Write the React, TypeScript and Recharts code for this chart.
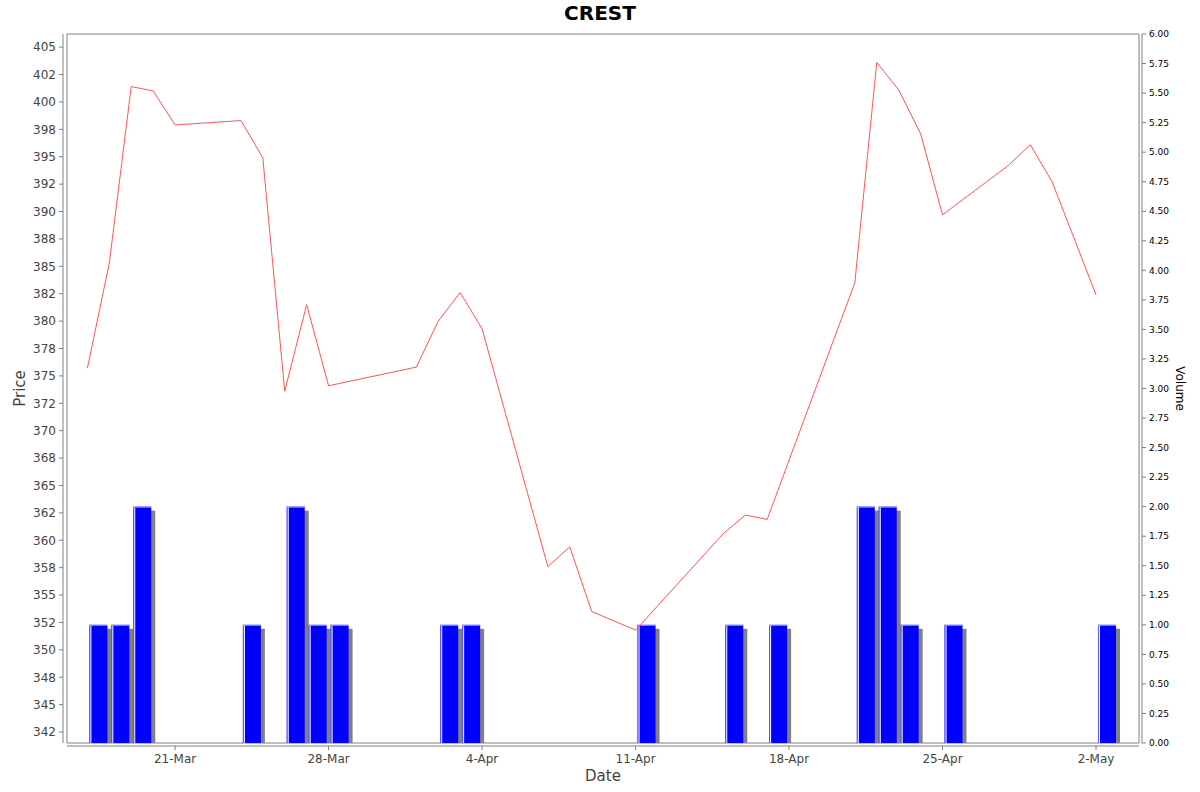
import React from 'react'
import { ComposedChart, Line, Bar, XAxis, YAxis, ReferenceArea } from 'recharts'

const FONT = '"DejaVu Sans", sans-serif'

// trading days shown on the chart
const DATES = [
  '2025-03-17', '2025-03-18', '2025-03-19', '2025-03-20', '2025-03-21',
  '2025-03-24', '2025-03-25', '2025-03-26', '2025-03-27', '2025-03-28',
  '2025-04-01', '2025-04-02', '2025-04-03', '2025-04-04',
  '2025-04-07', '2025-04-08', '2025-04-09', '2025-04-11',
  '2025-04-15', '2025-04-16', '2025-04-17',
  '2025-04-21', '2025-04-22', '2025-04-23', '2025-04-24', '2025-04-25',
  '2025-04-28', '2025-04-29', '2025-04-30', '2025-05-02',
]

const PRICES = [
  375.7, 385.3, 401.4, 401.0, 397.9,
  398.3, 394.9, 373.6, 381.5, 374.1,
  375.8, 380.0, 382.6, 379.3,
  357.6, 359.4, 353.5, 351.8,
  360.6, 362.3, 361.9,
  383.5, 403.6, 401.1, 397.1, 389.7,
  394.2, 396.1, 392.7, 382.4,
]

const VOLUMES = [
  1, 1, 2, 0, 0,
  1, 0, 2, 1, 1,
  0, 1, 1, 0,
  0, 0, 0, 1,
  1, 0, 1,
  2, 2, 1, 0, 1,
  0, 0, 0, 1,
]

const DATE_TICKS = ['2025-03-21', '2025-03-28', '2025-04-04', '2025-04-11', '2025-04-18', '2025-04-25', '2025-05-02']

const PRICE_TICKS = [
  342.5, 345, 347.5, 350, 352.5, 355, 357.5, 360, 362.5, 365, 367.5, 370, 372.5,
  375, 377.5, 380, 382.5, 385, 387.5, 390, 392.5, 395, 397.5, 400, 402.5, 405,
]

const VOLUME_TICKS = [
  0, 0.25, 0.5, 0.75, 1, 1.25, 1.5, 1.75, 2, 2.25, 2.5, 2.75, 3,
  3.25, 3.5, 3.75, 4, 4.25, 4.5, 4.75, 5, 5.25, 5.5, 5.75, 6,
]

const MONTHS = ['Jan', 'Feb', 'Mar', 'Apr', 'May', 'Jun', 'Jul', 'Aug', 'Sep', 'Oct', 'Nov', 'Dec']

const toDay = (s: string) => {
  const [y, m, d] = s.split('-').map(Number)
  return Date.UTC(y, m - 1, d) / 86400000
}

const fmtDate = (v: number) => {
  const dt = new Date(Math.round(v) * 86400000)
  return `${dt.getUTCDate()}-${MONTHS[dt.getUTCMonth()]}`
}

// labels are rounded half-to-even (342.5 -> 342, 347.5 -> 348)
const fmtPrice = (v: number) => {
  const f = Math.floor(v)
  if (Math.abs(v - f - 0.5) < 1e-9) return String(f % 2 === 0 ? f : f + 1)
  return String(Math.round(v))
}

const data = DATES.map((d, i) => ({ day: toDay(d), price: PRICES[i], volume: VOLUMES[i] }))

const X_MIN = toDay(DATES[0]) - 0.93
const X_MAX = toDay(DATES[DATES.length - 1]) + 1.96
const PRICE_DOMAIN: [number, number] = [341.5, 406.2]

const VolumeBar = (props: any) => {
  const { x, y, width, height } = props
  if (!height || height <= 0) return null
  return (
    <g>
      <rect x={x + 4} y={y + 4} width={width} height={height - 4} fill="#808080" />
      <rect x={x} y={y} width={width} height={height} fill="#0000ff" />
      <line x1={x + 0.5} y1={y} x2={x + 0.5} y2={y + height} stroke="#6060ff" strokeWidth={1} />
      <line x1={x + 1.5} y1={y} x2={x + 1.5} y2={y + height} stroke="#ffffff" strokeWidth={1} />
      <line x1={x} y1={y + 0.5} x2={x + width} y2={y + 0.5} stroke="#9090ff" strokeWidth={1} />
    </g>
  )
}

export default function App() {
  return (
    <div style={{ position: 'absolute', left: 0, top: 0, width: 1200, height: 792, background: '#fff', fontFamily: FONT }}>
      <div
        style={{
          position: 'absolute',
          top: 0,
          left: 0,
          width: 1200,
          textAlign: 'center',
          fontSize: 20,
          fontWeight: 'bold',
          lineHeight: '26px',
          color: '#000',
        }}
      >
        CREST
      </div>
      <ComposedChart width={1200} height={792} data={data} margin={{ top: 34, right: 0, bottom: 0, left: 0 }}>
        <ReferenceArea
          xAxisId="date"
          yAxisId="price"
          x1={X_MIN}
          x2={X_MAX}
          y1={PRICE_DOMAIN[0]}
          y2={PRICE_DOMAIN[1]}
          fill="none"
          stroke="#808080"
          strokeWidth={1}
        />
        <XAxis
          xAxisId="date"
          dataKey="day"
          type="number"
          domain={[X_MIN, X_MAX]}
          allowDataOverflow
          ticks={DATE_TICKS.map(toDay)}
          interval={0}
          tickFormatter={fmtDate}
          height={49}
          tickSize={4}
          tickMargin={7}
          axisLine={{ stroke: '#808080', transform: 'translate(0,3)' }}
          tickLine={{ stroke: '#808080', transform: 'translate(0,3)' }}
          tick={{ fill: '#444444', fontSize: 12, fontFamily: FONT }}
          label={{
            value: 'Date',
            content: (p: any) => {
              const vb = p.viewBox
              return (
                <text x={vb.x + vb.width / 2} y={vb.y + 38} textAnchor="middle" fill="#444444" fontSize={15} fontFamily={FONT}>
                  Date
                </text>
              )
            },
          }}
        />
        <XAxis xAxisId="vol" dataKey="day" type="number" domain={[X_MIN - 0.5, X_MAX - 0.5]} allowDataOverflow hide />
        <YAxis
          yAxisId="price"
          type="number"
          domain={PRICE_DOMAIN}
          allowDataOverflow
          ticks={PRICE_TICKS}
          interval={0}
          tickFormatter={fmtPrice}
          width={67}
          tickSize={4}
          tickMargin={7}
          axisLine={{ stroke: '#808080', transform: 'translate(-4,0)' }}
          tickLine={{ stroke: '#808080', transform: 'translate(-4,0)' }}
          tick={{ fill: '#444444', fontSize: 12, fontFamily: FONT }}
          label={{
            value: 'Price',
            content: (p: any) => {
              const vb = p.viewBox
              const cx = vb.x + 25
              const cy = vb.y + vb.height / 2
              return (
                <text x={cx} y={cy} transform={`rotate(-90 ${cx} ${cy})`} textAnchor="middle" fill="#444444" fontSize={15} fontFamily={FONT}>
                  Price
                </text>
              )
            },
          }}
        />
        <YAxis
          yAxisId="vol"
          orientation="right"
          type="number"
          domain={[0, 6]}
          allowDataOverflow
          ticks={VOLUME_TICKS}
          interval={0}
          tickFormatter={(v: number) => v.toFixed(2)}
          width={61}
          tickSize={4}
          tickMargin={6}
          axisLine={{ stroke: '#808080', transform: 'translate(3,0)' }}
          tickLine={{ stroke: '#808080', transform: 'translate(3,0)' }}
          tick={{ fill: '#000000', fontSize: 9, fontFamily: FONT }}
          label={{
            value: 'Volume',
            content: (p: any) => {
              const vb = p.viewBox
              const cx = vb.x + 37
              const cy = vb.y + vb.height / 2
              return (
                <text x={cx} y={cy} transform={`rotate(90 ${cx} ${cy})`} textAnchor="middle" fill="#000000" fontSize={12} fontFamily={FONT}>
                  Volume
                </text>
              )
            },
          }}
        />
        <Bar
          xAxisId="vol"
          yAxisId="vol"
          dataKey="volume"
          barSize={18}
          shape={(p: any) => <VolumeBar {...p} />}
          isAnimationActive={false}
        />
        <Line
          xAxisId="date"
          yAxisId="price"
          type="linear"
          dataKey="price"
          stroke="#ff5555"
          strokeWidth={1}
          dot={false}
          activeDot={false}
          isAnimationActive={false}
        />
      </ComposedChart>
    </div>
  )
}
